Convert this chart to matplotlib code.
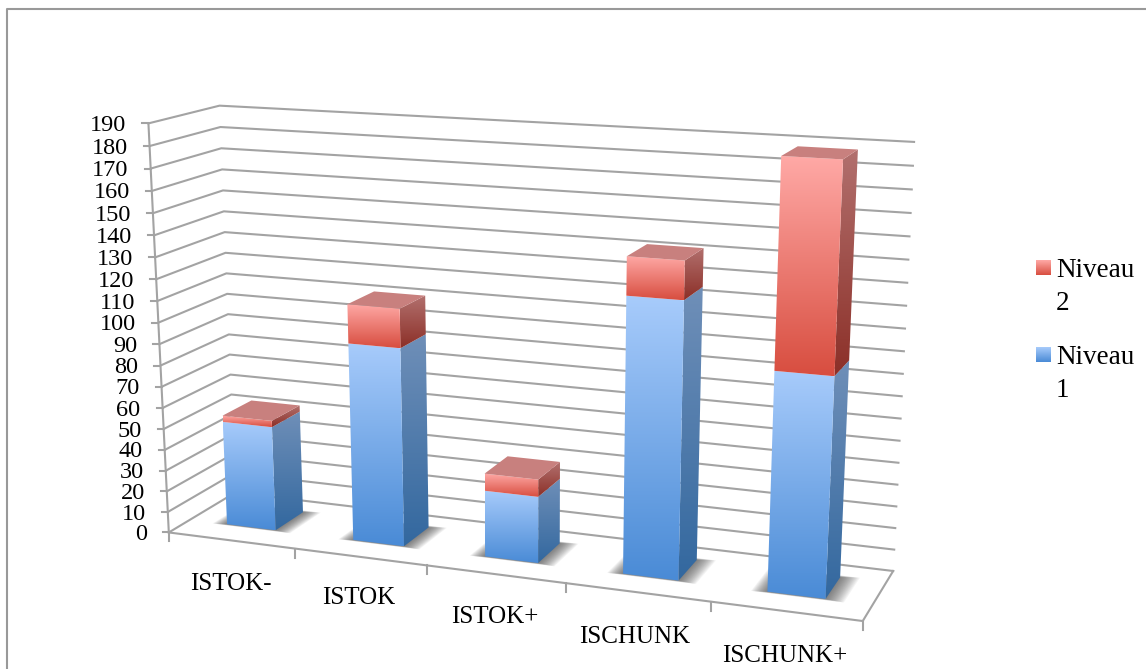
#!/usr/bin/env python3
"""Stacked 3D-look column chart, drawn on a flat axes with a small perspective projection."""

import numpy as np
import matplotlib
matplotlib.use('Agg')
import matplotlib.pyplot as plt
from matplotlib.patches import Polygon

# Data
categories = ['ISTOK-', 'ISTOK', 'ISTOK+', 'ISCHUNK', 'ISCHUNK+']
niveau1 = [50, 93, 31, 125, 98]
niveau2 = [3, 18, 8, 17, 90]
y_ticks = list(range(0, 200, 10))

W, H = 1146, 669
YMAX = 190
GRID = '#a3a3a3'
FONT = 'Liberation Serif'
BLUE = dict(front=('#a7cbfb', '#4a8bd6'), side=('#6f8fb8', '#33689f'), top='#a7cbfb')
RED = dict(front=('#ffa9a6', '#d84e40'), side=('#b2706e', '#8c3028'), top='#c8807e')

# picture position of known chart corners: (x 0-1, value, depth 0-1) -> pixel
calib_3d = [(0, 0, 0), (0, YMAX, 0), (0, YMAX, 1), (0, 0, 1), (1, 0, 0), (1, 0, 1), (1, YMAX, 1)]
calib_px = [(169, 531), (148, 124), (220, 105), (235, 494), (863, 622), (893, 570), (914, 142)]


def fit_projection(pts3d, pts2d):
    """Least squares camera matrix from point pairs."""
    rows = []
    for (x, y, z), (u, v) in zip(pts3d, pts2d):
        y = y / YMAX
        rows.append([x, y, z, 1, 0, 0, 0, 0, -u * x, -u * y, -u * z, -u])
        rows.append([0, 0, 0, 0, x, y, z, 1, -v * x, -v * y, -v * z, -v])
    _, _, vt = np.linalg.svd(np.array(rows, dtype=float))
    return vt[-1].reshape(3, 4)


CAM = fit_projection(calib_3d, calib_px)


def proj(x, y, z):
    p = CAM @ np.array([x, y / YMAX, z, 1.0])
    return p[0] / p[2], p[1] / p[2]


def gradient_poly(ax, pts, colors, zorder):
    """Polygon filled with a top-to-bottom colour ramp."""
    pts = np.array(pts)
    c0, c1 = [np.array(matplotlib.colors.to_rgb(c)) for c in colors]
    ramp = np.linspace(0, 1, 64)[:, None, None]
    img = c0[None, None, :] * (1 - ramp) + c1[None, None, :] * ramp
    x0, x1, y0, y1 = pts[:, 0].min(), pts[:, 0].max(), pts[:, 1].min(), pts[:, 1].max()
    im = ax.imshow(img, extent=(x0, x1, y1, y0), aspect='auto', zorder=zorder, interpolation='bilinear')
    im.set_clip_path(Polygon(pts, closed=True, transform=ax.transData))


def draw_box(ax, xl, xr, z0, z1, v0, v1, style, zorder, show_top):
    gradient_poly(ax, [proj(xr, v0, z0), proj(xr, v0, z1), proj(xr, v1, z1), proj(xr, v1, z0)], style['side'], zorder)
    gradient_poly(ax, [proj(xl, v0, z0), proj(xr, v0, z0), proj(xr, v1, z0), proj(xl, v1, z0)], style['front'], zorder + 0.1)
    if show_top:
        ax.add_patch(Polygon([proj(xl, v1, z0), proj(xr, v1, z0), proj(xr, v1, z1), proj(xl, v1, z1)],
                             closed=True, fc=style['top'], ec='none', zorder=zorder + 0.2))


def draw_shadow(ax, xl, xr, z0, z1, zorder):
    # soft floor shadow from stacked translucent outlines
    for grow in np.linspace(0.042, 0.002, 16):
        a, b = xl - grow * 0.5, xr + grow * 0.6
        c, d = z0 - grow * 0.55, z1 + grow * 0.9
        ax.add_patch(Polygon([proj(a, 0, c), proj(b, 0, c), proj(b, 0, d), proj(a, 0, d)],
                             closed=True, fc='#404040', ec='none', alpha=0.06, zorder=zorder))


def main():
    fig = plt.figure(figsize=(W / 100, H / 100), dpi=100)
    ax = fig.add_axes([0, 0, 1, 1])
    ax.set_xlim(0, W)
    ax.set_ylim(H, 0)
    ax.axis('off')

    # outer frame
    ax.plot([7, 7, 1146], [669, 9, 9], color='#999999', lw=1.5, zorder=1)

    # walls and floor
    for v in y_ticks:
        pts = [proj(0, v, 0), proj(0, v, 1), proj(1, v, 1)]
        ax.plot(*zip(*pts), color=GRID, lw=1.5, zorder=2)
        tx, ty = proj(0, v, 0)
        ax.plot([tx - 6, tx], [ty, ty], color=GRID, lw=1.5, zorder=2)
        ax.text(tx - 22, ty + 2, str(v), ha='right', va='center', family=FONT, fontsize=17.5, color='black', zorder=20)
    ax.plot(*zip(proj(0, 0, 0), proj(0, YMAX, 0)), color=GRID, lw=1.5, zorder=2)
    ax.plot(*zip(proj(0, 0, 0), proj(1, 0, 0), proj(1, 0, 1)), color=GRID, lw=1.5, zorder=2)

    n = len(categories)
    for i in range(n + 1):
        tx, ty = proj(i / n, 0, 0)
        ax.plot([tx, tx], [ty, ty + 9], color=GRID, lw=1.5, zorder=2)

    # columns, left to right
    for i in range(n):
        xl, xr = (i + 0.30) / n, (i + 0.69) / n
        z0, z1 = 0.31, 0.75
        draw_shadow(ax, xl, xr, z0, z1, 3 + i)
        draw_box(ax, xl, xr, z0, z1, 0, niveau1[i], BLUE, 3.3 + i, False)
        draw_box(ax, xl, xr, z0, z1, niveau1[i], niveau1[i] + niveau2[i], RED, 3.6 + i, True)

    # category labels
    label_px = [(231, 584), (359, 598), (495, 617), (635, 637), (785, 656)]
    for name, (lx, ly) in zip(categories, label_px):
        ax.text(lx, ly, name, ha='center', va='center', family=FONT, fontsize=18, color='black', zorder=20)

    # legend
    for (sy, style, label) in [(260, RED, 'Niveau\n2'), (347, BLUE, 'Niveau\n1')]:
        gradient_poly(ax, [(1036, sy), (1051, sy), (1051, sy + 15), (1036, sy + 15)], style['front'], 20)
        ax.text(1056, sy - 2, label, ha='left', va='top', family=FONT, fontsize=19.5, color='black', linespacing=1.4, zorder=20)

    ax.set_xlim(0, W)
    ax.set_ylim(H, 0)
    fig.savefig('out.png', dpi=100)
    plt.close(fig)


if __name__ == '__main__':
    main()
